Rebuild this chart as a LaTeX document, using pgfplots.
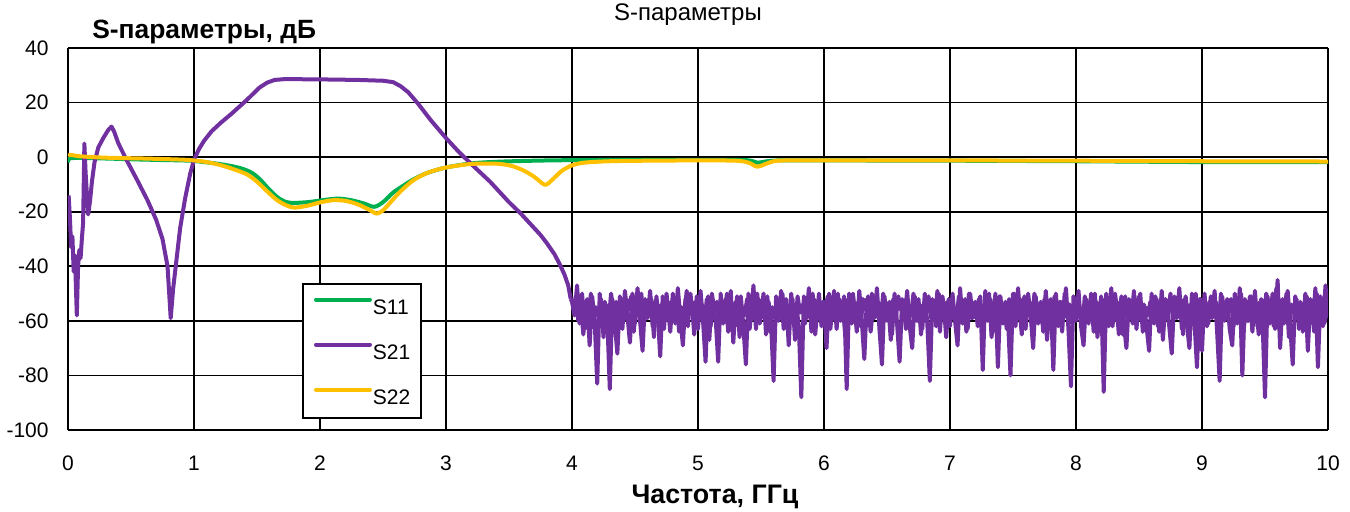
\documentclass[border=0pt]{standalone}
\usepackage{pgfplots}
\pgfplotsset{compat=1.18}
\usepackage{fontspec}
\setmainfont{Liberation Sans}
\definecolor{sgreen}{HTML}{00B050}
\definecolor{spurple}{HTML}{7030A0}
\definecolor{syellow}{HTML}{FFC000}
\begin{document}
\begin{tikzpicture}
\path[use as bounding box] (0pt,0pt) rectangle (675pt,255.5pt);
\begin{axis}[
  at={(34pt,40.5pt)}, anchor=south west,
  scale only axis, width=630pt, height=191pt,
  xmin=0, xmax=10, ymin=-100, ymax=40,
  xtick={0,1,2,3,4,5,6,7,8,9,10},
  xticklabels={0,1,2,3,4,5,6,7,8,9,10},
  ytick={-100,-80,-60,-40,-20,0,20,40},
  yticklabels={-100,-80,-60,-40,-20,0,20,40},
  major tick length=0pt,
  axis x line*=bottom, axis y line*=left,
  axis line style={line width=1.4pt,black},
  grid=major,
  major grid style={line width=0.9pt,black},
  tick label style={font=\fontsize{10.5}{12}\selectfont},
  xticklabel style={anchor=base, yshift=-20pt},
  yticklabel style={anchor=east, inner sep=0pt, xshift=-9.5pt},
  title={S-параметры},
  title style={at={(axis description cs:0.492,1)}, anchor=base, yshift=8pt, font=\fontsize{12}{14}\selectfont},
  every axis y label/.style={at={(axis description cs:0.019,1)}, anchor=base west, inner sep=0pt, yshift=5pt, font=\fontsize{13.2}{16}\selectfont\bfseries},
  ylabel={S-параметры, дБ},
  every axis x label/.style={at={(axis description cs:0.5135,0)}, anchor=base, inner sep=0pt, yshift=-36.5pt, font=\fontsize{13.4}{16}\selectfont\bfseries},
  xlabel={Частота, ГГц},
  legend style={at={(axis description cs:0.1857,0.3848)}, anchor=north west,
    draw=black, line width=1pt, fill=white,
    inner xsep=5.5pt, inner ysep=6.75pt,
    row sep=14pt,
    font=\fontsize{10.5}{12}\selectfont,
    nodes={inner sep=0pt, text height=7.5pt, text depth=0pt}},
  legend cell align=left,
  legend image code/.code={\draw[#1,line cap=round] (0pt,3.75pt) -- (27pt,3.75pt); \path (27.5pt,0pt);},
  every axis plot/.append style={line width=2pt, line join=round},
]
% S11
\addplot[sgreen, smooth, tension=0.5] coordinates {
(0.0,-2) (0.01,-0.5) (0.1,-0.3) (0.3,-0.5) (0.6,-0.9) (0.9,-1.2) (1.0,-1.4) (1.2,-2.5) (1.35,-3.8) (1.45,-5.5) (1.52,-8) (1.6,-12) (1.68,-15.3) (1.76,-16.7) (1.9,-16.5) (2.05,-15.6) (2.15,-15.2) (2.25,-15.8) (2.35,-17) (2.43,-18.2) (2.5,-16.5) (2.58,-13) (2.66,-10.5) (2.74,-8.2) (2.85,-5.8) (3.0,-3.8) (3.2,-2.3) (3.4,-1.7) (3.7,-1.3) (4.0,-1.1) (4.5,-1.0) (5.0,-1.0) (5.38,-1.1) (5.47,-2.0) (5.55,-1.5) (5.65,-1.2) (6.0,-1.2) (7.0,-1.3) (8.0,-1.5) (9.0,-1.8) (10.0,-1.8)
};
\addlegendentry{S11}
% S21 (0 - 4 GHz)
\addplot[spurple] coordinates {
(0.005,-14) (0.015,-22) (0.025,-33) (0.035,-29) (0.045,-42) (0.055,-36) (0.07,-58) (0.08,-40) (0.09,-34) (0.10,-37) (0.11,-30) (0.12,-24) (0.13,5) (0.14,-6) (0.16,-21) (0.175,-16) (0.19,-9) (0.21,-2) (0.24,3.5) (0.28,7) (0.32,10) (0.345,11.2) (0.365,9.5) (0.40,5) (0.47,-1.5) (0.55,-8.5) (0.63,-15.7) (0.70,-23) (0.75,-30) (0.79,-40) (0.815,-59) (0.835,-48) (0.86,-38) (0.89,-26) (0.93,-15) (0.97,-6) (1.00,-1) (1.04,3) (1.08,6) (1.14,9.5) (1.21,12.5) (1.30,16) (1.42,21) (1.52,25.5) (1.58,27.3) (1.64,28.3) (1.72,28.6) (2.0,28.5) (2.3,28.3) (2.5,28) (2.58,27.5) (2.64,26) (2.70,23.8) (2.78,19.5) (2.88,13.5) (3.0,7) (3.1,2) (3.2,-2.5) (3.35,-9) (3.5,-16.5) (3.59,-20.5) (3.68,-25) (3.75,-28.5) (3.80,-31.5) (3.86,-35.5) (3.90,-39) (3.94,-43) (3.97,-47) (3.99,-52)
};
\addlegendentry{S21}
% S21 (4 - 10 GHz, noise floor), interleaved samples
\addplot[spurple, forget plot] coordinates {
(4.01,-56) (4.03,-51) (4.05,-60) (4.07,-54) (4.09,-65) (4.11,-53) (4.13,-59) (4.15,-50) (4.17,-62) (4.19,-55)
(4.21,-58) (4.23,-52) (4.25,-66) (4.27,-54) (4.29,-61) (4.31,-50) (4.33,-57) (4.35,-53) (4.37,-63) (4.39,-55)
(4.41,-60) (4.43,-52) (4.45,-56) (4.47,-51) (4.49,-64) (4.51,-54) (4.53,-58) (4.55,-50) (4.57,-61) (4.59,-55)
(4.61,-57) (4.63,-52) (4.65,-66) (4.67,-51) (4.69,-60) (4.71,-54) (4.73,-63) (4.75,-50) (4.77,-58) (4.79,-53)
(4.81,-56) (4.83,-52) (4.85,-64) (4.87,-55) (4.89,-59) (4.91,-49) (4.93,-57) (4.95,-53) (4.97,-65) (4.99,-51)
(5.01,-58) (5.03,-54) (5.05,-61) (5.07,-52) (5.09,-67) (5.11,-50) (5.13,-56) (5.15,-53) (5.17,-60) (5.19,-55)
(5.21,-57) (5.23,-50) (5.25,-59) (5.27,-54) (5.29,-62) (5.31,-51) (5.33,-66) (5.35,-55) (5.37,-58) (5.39,-52)
(5.41,-63) (5.43,-53) (5.45,-57) (5.47,-50) (5.49,-61) (5.51,-54) (5.53,-58) (5.55,-51) (5.57,-64) (5.59,-55)
(5.61,-59) (5.63,-53) (5.65,-56) (5.67,-50) (5.69,-62) (5.71,-55) (5.73,-58) (5.75,-52) (5.77,-67) (5.79,-51)
(5.81,-57) (5.83,-54) (5.85,-61) (5.87,-52) (5.89,-58) (5.91,-50) (5.93,-65) (5.95,-55) (5.97,-59) (5.99,-53)
(6.01,-56) (6.03,-51) (6.05,-63) (6.07,-54) (6.09,-58) (6.11,-50) (6.13,-60) (6.15,-55) (6.17,-66) (6.19,-52)
(6.21,-57) (6.23,-50) (6.25,-59) (6.27,-54) (6.29,-62) (6.31,-52) (6.33,-56) (6.35,-51) (6.37,-64) (6.39,-55)
(6.41,-58) (6.43,-53) (6.45,-61) (6.47,-50) (6.49,-57) (6.51,-54) (6.53,-67) (6.55,-52) (6.57,-59) (6.59,-51)
(6.61,-56) (6.63,-53) (6.65,-63) (6.67,-55) (6.69,-58) (6.71,-50) (6.73,-60) (6.75,-52) (6.77,-65) (6.79,-54)
(6.81,-57) (6.83,-51) (6.85,-59) (6.87,-53) (6.89,-62) (6.91,-50) (6.93,-56) (6.95,-54) (6.97,-66) (6.99,-52)
(7.01,-58) (7.03,-55) (7.05,-61) (7.07,-51) (7.09,-57) (7.11,-53) (7.13,-64) (7.15,-50) (7.17,-59) (7.19,-54)
(7.21,-56) (7.23,-52) (7.25,-62) (7.27,-55) (7.29,-58) (7.31,-50) (7.33,-66) (7.35,-53) (7.37,-60) (7.39,-51)
(7.41,-57) (7.43,-54) (7.45,-63) (7.47,-52) (7.49,-59) (7.51,-50) (7.53,-56) (7.55,-55) (7.57,-65) (7.59,-51)
(7.61,-58) (7.63,-53) (7.65,-61) (7.67,-50) (7.69,-57) (7.71,-54) (7.73,-60) (7.75,-52) (7.77,-67) (7.79,-55)
(7.81,-59) (7.83,-51) (7.85,-56) (7.87,-53) (7.89,-64) (7.91,-50) (7.93,-58) (7.95,-54) (7.97,-61) (7.99,-52)
(8.01,-57) (8.03,-55) (8.05,-63) (8.07,-51) (8.09,-58) (8.11,-53) (8.13,-60) (8.15,-50) (8.17,-66) (8.19,-54)
(8.21,-59) (8.23,-52) (8.25,-56) (8.27,-55) (8.29,-62) (8.31,-50) (8.33,-58) (8.35,-53) (8.37,-65) (8.39,-51)
(8.41,-57) (8.43,-54) (8.45,-61) (8.47,-52) (8.49,-59) (8.51,-50) (8.53,-64) (8.55,-55) (8.57,-58) (8.59,-53)
(8.61,-56) (8.63,-51) (8.65,-62) (8.67,-54) (8.69,-67) (8.71,-52) (8.73,-57) (8.75,-50) (8.77,-60) (8.79,-55)
(8.81,-58) (8.83,-53) (8.85,-65) (8.87,-51) (8.89,-59) (8.91,-54) (8.93,-56) (8.95,-50) (8.97,-63) (8.99,-52)
(9.01,-57) (9.03,-55) (9.05,-61) (9.07,-51) (9.09,-58) (9.11,-53) (9.13,-66) (9.15,-50) (9.17,-59) (9.19,-54)
(9.21,-56) (9.23,-52) (9.25,-62) (9.27,-55) (9.29,-58) (9.31,-50) (9.33,-64) (9.35,-53) (9.37,-60) (9.39,-51)
(9.41,-57) (9.43,-54) (9.45,-65) (9.47,-52) (9.49,-59) (9.51,-50) (9.53,-56) (9.55,-55) (9.57,-62) (9.59,-48)
(9.61,-58) (9.63,-53) (9.65,-61) (9.67,-50) (9.69,-66) (9.71,-54) (9.73,-57) (9.75,-52) (9.77,-63) (9.79,-55)
(9.81,-59) (9.83,-51) (9.85,-56) (9.87,-54) (9.89,-64) (9.91,-50) (9.93,-58) (9.95,-53) (9.97,-61) (9.99,-57)
};
\addplot[spurple, forget plot] coordinates {
(3.99,-52)
(4.00,-53) (4.02,-58) (4.04,-47) (4.06,-61) (4.08,-50) (4.10,-63) (4.12,-52) (4.14,-69) (4.16,-51) (4.18,-60)
(4.20,-83) (4.22,-50) (4.24,-62) (4.26,-53) (4.28,-59) (4.30,-85) (4.32,-52) (4.34,-61) (4.36,-72) (4.38,-51)
(4.40,-63) (4.42,-49) (4.44,-58) (4.46,-68) (4.48,-50) (4.50,-61) (4.52,-48) (4.54,-60) (4.56,-71) (4.58,-52)
(4.60,-59) (4.62,-49) (4.64,-62) (4.66,-53) (4.68,-57) (4.70,-73) (4.72,-51) (4.74,-60) (4.76,-54) (4.78,-64)
(4.80,-50) (4.82,-61) (4.84,-48) (4.86,-59) (4.88,-69) (4.90,-52) (4.92,-62) (4.94,-50) (4.96,-58) (4.98,-53)
(5.00,-63) (5.02,-49) (5.04,-60) (5.06,-75) (5.08,-51) (5.10,-62) (5.12,-54) (5.14,-59) (5.16,-75) (5.18,-50)
(5.20,-61) (5.22,-52) (5.24,-64) (5.26,-49) (5.28,-68) (5.30,-53) (5.32,-58) (5.34,-51) (5.36,-62) (5.38,-76)
(5.40,-50) (5.42,-60) (5.44,-47) (5.46,-63) (5.48,-52) (5.50,-59) (5.52,-50) (5.54,-65) (5.56,-53) (5.58,-61)
(5.60,-82) (5.62,-51) (5.64,-60) (5.66,-49) (5.68,-63) (5.70,-52) (5.72,-69) (5.74,-50) (5.76,-61) (5.78,-54)
(5.80,-62) (5.82,-88) (5.84,-51) (5.86,-59) (5.88,-48) (5.90,-64) (5.92,-52) (5.94,-60) (5.96,-50) (5.98,-62)
(6.00,-53) (6.02,-70) (6.04,-50) (6.06,-60) (6.08,-49) (6.10,-63) (6.12,-52) (6.14,-58) (6.16,-51) (6.18,-85)
(6.20,-50) (6.22,-61) (6.24,-53) (6.26,-64) (6.28,-49) (6.30,-60) (6.32,-74) (6.34,-52) (6.36,-62) (6.38,-50)
(6.40,-59) (6.42,-48) (6.44,-63) (6.46,-76) (6.48,-51) (6.50,-60) (6.52,-53) (6.54,-65) (6.56,-50) (6.58,-61)
(6.60,-75) (6.62,-52) (6.64,-59) (6.66,-49) (6.68,-62) (6.70,-70) (6.72,-51) (6.74,-60) (6.76,-54) (6.78,-63)
(6.80,-50) (6.82,-61) (6.84,-82) (6.86,-52) (6.88,-60) (6.90,-49) (6.92,-64) (6.94,-51) (6.96,-58) (6.98,-53)
(7.00,-62) (7.02,-50) (7.04,-60) (7.06,-69) (7.08,-48) (7.10,-61) (7.12,-52) (7.14,-63) (7.16,-50) (7.18,-59)
(7.20,-53) (7.22,-62) (7.24,-51) (7.26,-78) (7.28,-49) (7.30,-60) (7.32,-52) (7.34,-64) (7.36,-50) (7.38,-77)
(7.40,-51) (7.42,-61) (7.44,-53) (7.46,-59) (7.48,-80) (7.50,-50) (7.52,-62) (7.54,-48) (7.56,-60) (7.58,-52)
(7.60,-63) (7.62,-50) (7.64,-58) (7.66,-70) (7.68,-51) (7.70,-61) (7.72,-53) (7.74,-64) (7.76,-49) (7.78,-60)
(7.80,-52) (7.82,-78) (7.84,-50) (7.86,-62) (7.88,-53) (7.90,-59) (7.92,-48) (7.94,-63) (7.96,-84) (7.98,-51)
(8.00,-60) (8.02,-49) (8.04,-62) (8.06,-69) (8.08,-52) (8.10,-61) (8.12,-50) (8.14,-64) (8.16,-53) (8.18,-59)
(8.20,-51) (8.22,-86) (8.24,-50) (8.26,-62) (8.28,-48) (8.30,-60) (8.32,-53) (8.34,-65) (8.36,-51) (8.38,-61)
(8.40,-70) (8.42,-52) (8.44,-59) (8.46,-49) (8.48,-63) (8.50,-51) (8.52,-60) (8.54,-54) (8.56,-62) (8.58,-71)
(8.60,-50) (8.62,-61) (8.64,-52) (8.66,-64) (8.68,-49) (8.70,-60) (8.72,-53) (8.74,-62) (8.76,-72) (8.78,-51)
(8.80,-59) (8.82,-48) (8.84,-63) (8.86,-52) (8.88,-61) (8.90,-70) (8.92,-50) (8.94,-60) (8.96,-77) (8.98,-52)
(9.00,-71) (9.02,-50) (9.04,-62) (9.06,-53) (9.08,-59) (9.10,-49) (9.12,-64) (9.14,-82) (9.16,-51) (9.18,-60)
(9.20,-52) (9.22,-63) (9.24,-69) (9.26,-50) (9.28,-61) (9.30,-48) (9.32,-80) (9.34,-52) (9.36,-60) (9.38,-51)
(9.40,-64) (9.42,-49) (9.44,-62) (9.46,-53) (9.48,-59) (9.50,-88) (9.52,-51) (9.54,-61) (9.56,-50) (9.58,-63)
(9.60,-45) (9.62,-70) (9.64,-52) (9.66,-60) (9.68,-49) (9.70,-62) (9.72,-76) (9.74,-51) (9.76,-59) (9.78,-53)
(9.80,-64) (9.82,-50) (9.84,-71) (9.86,-52) (9.88,-61) (9.90,-48) (9.92,-77) (9.94,-51) (9.96,-62) (9.98,-47)
(10.00,-58)
};
% S22
\addplot[syellow, smooth, tension=0.5] coordinates {
(0.0,0.5) (0.02,0.8) (0.1,0.3) (0.3,-0.2) (0.6,-0.5) (0.9,-0.9) (1.0,-1.2) (1.1,-1.8) (1.2,-2.8) (1.3,-4.2) (1.42,-6.3) (1.5,-9) (1.58,-12.5) (1.66,-15.8) (1.74,-17.8) (1.8,-18.5) (1.9,-17.8) (2.0,-16.6) (2.1,-15.8) (2.2,-16) (2.3,-17.3) (2.4,-19.5) (2.45,-20.7) (2.5,-19.5) (2.56,-16.5) (2.64,-12.5) (2.74,-8.5) (2.85,-5.8) (3.0,-3.8) (3.2,-2.5) (3.4,-2.4) (3.52,-3.2) (3.62,-5) (3.7,-7.2) (3.77,-9.8) (3.8,-10) (3.85,-8) (3.92,-5) (4.0,-3) (4.1,-2) (4.3,-1.5) (4.6,-1.3) (5.0,-1.2) (5.3,-1.3) (5.4,-2.0) (5.47,-3.5) (5.53,-2.6) (5.6,-1.5) (5.7,-1.2) (6.0,-1.2) (7.0,-1.2) (8.0,-1.3) (9.0,-1.5) (10.0,-1.6)
};
\addlegendentry{S22}
\end{axis}
\end{tikzpicture}
\end{document}
